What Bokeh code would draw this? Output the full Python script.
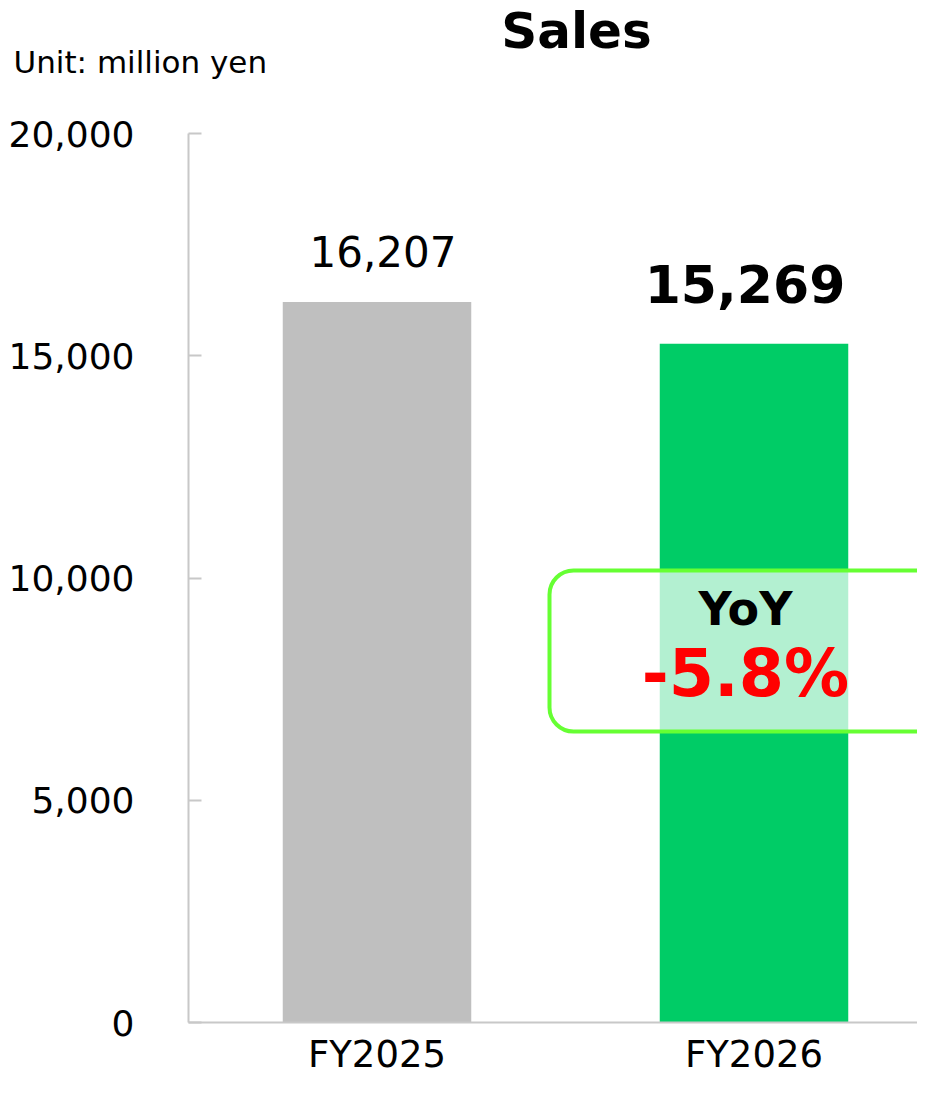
from bokeh.plotting import figure
from bokeh.models import (ColumnDataSource, Range1d, FixedTicker, NumeralTickFormatter,
                          Label, BoxAnnotation)
from bokeh.core.properties import value
from bokeh.embed import file_html
from bokeh.resources import INLINE

# ---- data ----
categories = ["FY2025", "FY2026"]
sales = [16207, 15269]
bar_colors = ["#BFBFBF", "#00CC66"]
label_sizes = ["42px", "52px"]
label_styles = ["normal", "bold"]
label_xoffsets = [6, -9]
label_yoffsets = [-51, -60]
y_ticks = [0, 5000, 10000, 15000, 20000]
title_text = "Sales"
unit_text = "Unit: million yen"
yoy_title = "YoY"
yoy_text = "-5.8%"

FONT = "DejaVu Sans"

# ---- layout: the frame covers the whole canvas; axes are pinned inside it ----
W, H = 917, 1079
AXIS_PX_X, ZERO_PX_Y, TOP_PX_Y = 188, 1022, 133   # y-axis column, zero line, 20,000 line
CAT0_PX, CAT_STEP_PX = 376.5, 377.0
Y_MAX = 20000


def dx(px):
    return (px - CAT0_PX) / CAT_STEP_PX


def dy(py):
    return (ZERO_PX_Y - py) * Y_MAX / (ZERO_PX_Y - TOP_PX_Y)


x_idx = list(range(len(categories)))

src = ColumnDataSource(dict(
    x=x_idx, top=sales, color=bar_colors,
    label=[f"{v:,}" for v in sales],
    size=label_sizes, style=label_styles,
    xoff=label_xoffsets, yoff=label_yoffsets,
))

p = figure(width=W, height=H, output_backend="svg", toolbar_location=None,
           x_range=Range1d(dx(0), dx(W)), y_range=Range1d(dy(H), dy(0)),
           min_border=0)
p.title.text = ""
p.title.visible = False
p.outline_line_color = None
p.xgrid.visible = False
p.ygrid.visible = False
p.background_fill_color = "white"
p.border_fill_color = "white"

p.vbar(x="x", top="top", width=0.5, color="color", line_color=None, source=src)

p.text(x="x", y="top", text="label", source=src, text_align="center",
       text_baseline="middle", text_font=value(FONT),
       text_font_size="size", text_font_style="style",
       x_offset="xoff", y_offset="yoff", text_color="black")

AX = "#C8C8C8"
# y axis (pinned at the left edge of the plotting area)
ya = p.yaxis[0]
ya.fixed_location = dx(AXIS_PX_X)
ya.bounds = (0, Y_MAX)
ya.ticker = FixedTicker(ticks=y_ticks)
ya.formatter = NumeralTickFormatter(format="0,0")
ya.axis_line_color = AX
ya.axis_line_width = 2
ya.major_tick_line_color = AX
ya.major_tick_line_width = 2
ya.major_tick_in = 13
ya.major_tick_out = 0
ya.minor_tick_line_color = None
ya.major_label_text_font = FONT
ya.major_label_text_font_size = "36px"
ya.major_label_text_color = "black"
ya.major_label_standoff = 54

# x axis (pinned at zero)
xa = p.xaxis[0]
xa.fixed_location = 0
xa.bounds = (dx(AXIS_PX_X), dx(W + 50))
xa.ticker = FixedTicker(ticks=x_idx)
xa.major_label_overrides = {i: c for i, c in zip(x_idx, categories)}
xa.axis_line_color = AX
xa.axis_line_width = 2
xa.major_tick_line_color = None
xa.major_tick_in = 0
xa.major_tick_out = 0
xa.minor_tick_line_color = None
xa.major_label_text_font = FONT
xa.major_label_text_font_size = "37px"
xa.major_label_text_color = "black"
xa.major_label_standoff = 10

# YoY box
p.add_layout(BoxAnnotation(left=dx(549), right=dx(1000), top=dy(570), bottom=dy(731),
                           fill_color="white", fill_alpha=0.7,
                           line_color="#66FF33", line_width=4, line_alpha=1,
                           border_radius=24, level="annotation"))

p.add_layout(Label(x=dx(745), y=dy(608), text=yoy_title, text_align="center",
                   text_baseline="middle", text_font=FONT, level="overlay",
                   text_font_size="46px", text_font_style="bold", text_color="black"))
p.add_layout(Label(x=dx(745), y=dy(673), text=yoy_text, text_align="center",
                   text_baseline="middle", text_font=FONT, level="overlay",
                   text_font_size="65px", text_font_style="bold", text_color="#FF0000"))

# title and unit note
p.add_layout(Label(x=dx(576), y=dy(30), text=title_text, text_align="center",
                   text_baseline="middle", text_font=FONT, level="overlay",
                   text_font_size="50px", text_font_style="bold", text_color="black"))
p.add_layout(Label(x=dx(13), y=dy(61), text=unit_text, text_align="left",
                   text_baseline="middle", text_font=FONT, level="overlay",
                   text_font_size="31px", text_color="black"))

open("out.html", "w").write(file_html(p, INLINE))
